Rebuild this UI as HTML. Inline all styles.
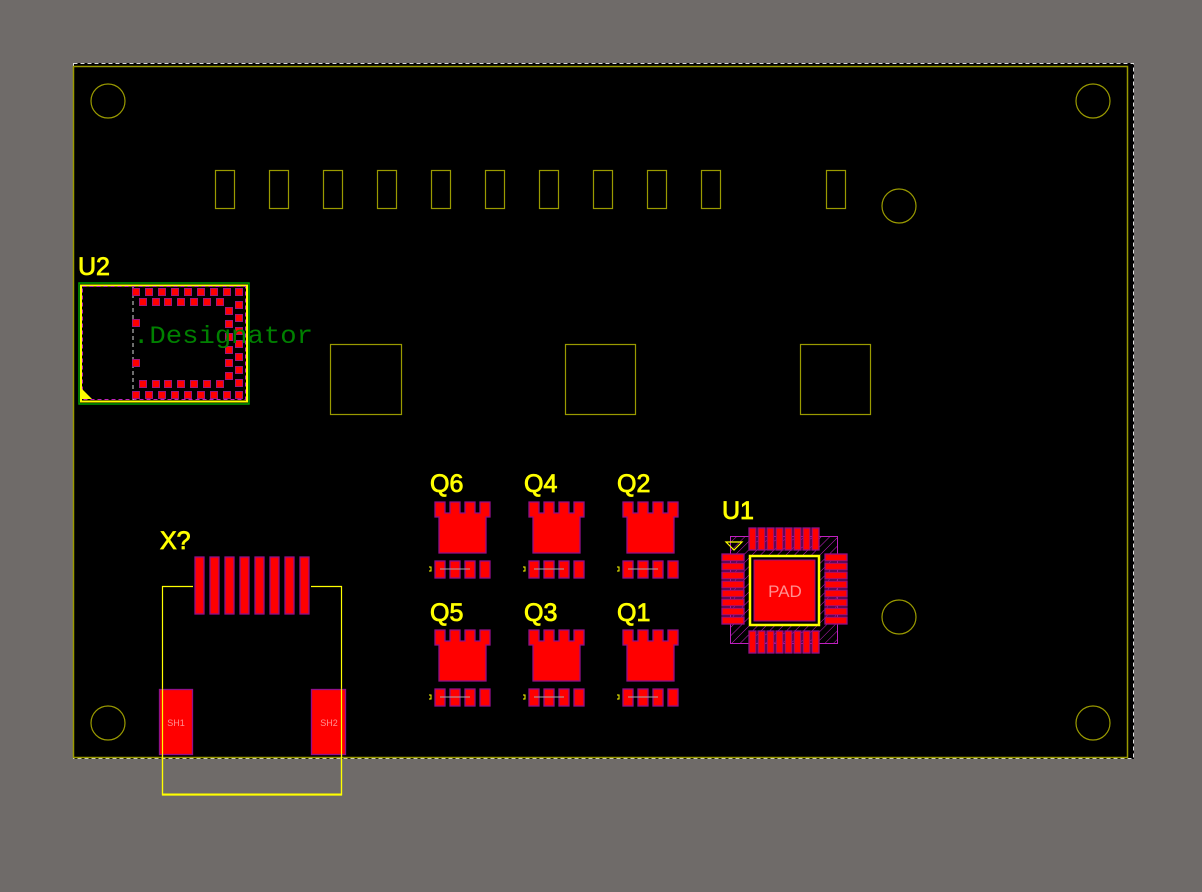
<!DOCTYPE html>
<html><head><meta charset="utf-8"><style>
html,body{margin:0;padding:0;background:#6f6b69;width:1202px;height:892px;overflow:hidden}
svg{display:block}
.lbl{font-family:"Liberation Sans",sans-serif;font-size:25px;fill:#ffff00;stroke:#ffff00;stroke-width:0.8}
</style></head><body>
<svg width="1202" height="892" viewBox="0 0 1202 892" xmlns="http://www.w3.org/2000/svg">
<defs>
<pattern id="hatch" width="6" height="6" patternUnits="userSpaceOnUse" patternTransform="rotate(45)">
<line x1="0" y1="0" x2="0" y2="6" stroke="#c020c0" stroke-width="1"/></pattern>
<g id="sp"><rect x="-4" y="-4" width="8" height="8" fill="#a0167a"/><rect x="-3" y="-3" width="6" height="6" fill="#ff0000"/></g>
<g id="q">
<path d="M0,0 H10 V11 H15 V0 H25 V11 H30 V0 H40 V11 H45 V0 H55 V15 H51 V51 H4 V15 H0 Z" fill="#ff0000" stroke="#90108a" stroke-width="1.3"/>
<rect x="0" y="59" width="10" height="17" fill="#ff0000" stroke="#90108a" stroke-width="1.3"/>
<rect x="15" y="59" width="10" height="17" fill="#ff0000" stroke="#90108a" stroke-width="1.3"/>
<rect x="30" y="59" width="10" height="17" fill="#ff0000" stroke="#90108a" stroke-width="1.3"/>
<rect x="45" y="59" width="10" height="17" fill="#ff0000" stroke="#90108a" stroke-width="1.3"/>
<line x1="5" y1="67" x2="35" y2="67" stroke="#aaa" stroke-width="1"/>
<path d="M-6,65 h2 v4 h-2" fill="none" stroke="#ff0" stroke-width="1"/>
</g>
<rect id="vp" width="7" height="22" fill="#ff0000" stroke="#90108a" stroke-width="1.3"/>
<rect id="hp" width="22" height="7" fill="#ff0000" stroke="#90108a" stroke-width="1.3"/>
<rect id="xp" width="9" height="57" fill="#ff0000" stroke="#90108a" stroke-width="1.3"/>
</defs>
<rect x="74" y="63" width="1060" height="696" fill="#000"/>
<rect x="73.5" y="63.5" width="1060" height="695" fill="none" stroke="#ddd" stroke-width="1" stroke-dasharray="4,3"/>
<rect x="73.5" y="66.5" width="1054" height="691" fill="none" stroke="#9a9a00" stroke-width="1.5"/>
<g fill="none" stroke="#9a9a00" stroke-width="1.2">
<circle cx="108" cy="101" r="17"/><circle cx="1093" cy="101" r="17"/>
<circle cx="108" cy="723" r="17"/><circle cx="1093" cy="723" r="17"/>
<circle cx="899" cy="206" r="17"/><circle cx="899" cy="617" r="17"/>
<rect x="215.5" y="170.5" width="19" height="38"/><rect x="269.5" y="170.5" width="19" height="38"/>
<rect x="323.5" y="170.5" width="19" height="38"/><rect x="377.5" y="170.5" width="19" height="38"/>
<rect x="431.5" y="170.5" width="19" height="38"/><rect x="485.5" y="170.5" width="19" height="38"/>
<rect x="539.5" y="170.5" width="19" height="38"/><rect x="593.5" y="170.5" width="19" height="38"/>
<rect x="647.5" y="170.5" width="19" height="38"/><rect x="701.5" y="170.5" width="19" height="38"/>
<rect x="826.5" y="170.5" width="19" height="38"/>
<rect x="330.5" y="344.5" width="71" height="70"/><rect x="565.5" y="344.5" width="70" height="70"/>
<rect x="800.5" y="344.5" width="70" height="70"/>
</g>
<text class="lbl" x="78" y="275">U2</text>
<rect x="79" y="283" width="170" height="121" fill="none" stroke="#00a000" stroke-width="1.5"/>
<rect x="81" y="285.5" width="166" height="116" fill="none" stroke="#ffff00" stroke-width="2"/>
<rect x="82.5" y="286.5" width="163" height="113" fill="none" stroke="#c020c0" stroke-width="1" stroke-dasharray="4,3"/>
<line x1="133" y1="287" x2="133" y2="400" stroke="#ddd" stroke-dasharray="4,3"/>
<path d="M82,399 V389 L92,399 Z" fill="#ffff00"/>
<g>
<use href="#sp" x="136" y="292"/><use href="#sp" x="149" y="292"/><use href="#sp" x="162" y="292"/><use href="#sp" x="175" y="292"/><use href="#sp" x="188" y="292"/><use href="#sp" x="201" y="292"/><use href="#sp" x="214" y="292"/><use href="#sp" x="227" y="292"/><use href="#sp" x="239" y="292"/>
<use href="#sp" x="143" y="302"/><use href="#sp" x="156" y="302"/><use href="#sp" x="168" y="302"/><use href="#sp" x="181" y="302"/><use href="#sp" x="194" y="302"/><use href="#sp" x="207" y="302"/><use href="#sp" x="220" y="302"/>
<use href="#sp" x="239" y="305"/><use href="#sp" x="239" y="318"/><use href="#sp" x="239" y="331"/><use href="#sp" x="239" y="344"/><use href="#sp" x="239" y="357"/><use href="#sp" x="239" y="370"/><use href="#sp" x="239" y="383"/><use href="#sp" x="239" y="395"/>
<use href="#sp" x="229" y="311"/><use href="#sp" x="229" y="324"/><use href="#sp" x="229" y="337"/><use href="#sp" x="229" y="350"/><use href="#sp" x="229" y="363"/><use href="#sp" x="229" y="376"/>
<use href="#sp" x="143" y="384"/><use href="#sp" x="156" y="384"/><use href="#sp" x="168" y="384"/><use href="#sp" x="181" y="384"/><use href="#sp" x="194" y="384"/><use href="#sp" x="207" y="384"/><use href="#sp" x="220" y="384"/>
<use href="#sp" x="136" y="395"/><use href="#sp" x="149" y="395"/><use href="#sp" x="162" y="395"/><use href="#sp" x="175" y="395"/><use href="#sp" x="188" y="395"/><use href="#sp" x="201" y="395"/><use href="#sp" x="214" y="395"/><use href="#sp" x="227" y="395"/>
<use href="#sp" x="136" y="323"/><use href="#sp" x="136" y="363"/>
</g>
<text x="133" y="343" font-family="Liberation Mono,monospace" font-size="25" fill="#008000" textLength="180" lengthAdjust="spacingAndGlyphs">.Designator</text>
<text class="lbl" x="430" y="492">Q6</text><text class="lbl" x="524" y="492">Q4</text><text class="lbl" x="617" y="492">Q2</text>
<text class="lbl" x="430" y="621">Q5</text><text class="lbl" x="524" y="621">Q3</text><text class="lbl" x="617" y="621">Q1</text>
<use href="#q" x="435" y="502"/><use href="#q" x="529" y="502"/><use href="#q" x="623" y="502"/>
<use href="#q" x="435" y="630"/><use href="#q" x="529" y="630"/><use href="#q" x="623" y="630"/>
<text class="lbl" x="722" y="519">U1</text>
<rect x="730.5" y="536.5" width="107" height="107" fill="url(#hatch)" stroke="#c020c0" stroke-width="1"/>
<g>
<use href="#vp" x="749" y="528"/><use href="#vp" x="758" y="528"/><use href="#vp" x="767" y="528"/><use href="#vp" x="776" y="528"/><use href="#vp" x="785" y="528"/><use href="#vp" x="794" y="528"/><use href="#vp" x="803" y="528"/><use href="#vp" x="812" y="528"/>
<use href="#vp" x="749" y="631"/><use href="#vp" x="758" y="631"/><use href="#vp" x="767" y="631"/><use href="#vp" x="776" y="631"/><use href="#vp" x="785" y="631"/><use href="#vp" x="794" y="631"/><use href="#vp" x="803" y="631"/><use href="#vp" x="812" y="631"/>
<use href="#hp" x="722" y="554"/><use href="#hp" x="722" y="563"/><use href="#hp" x="722" y="572"/><use href="#hp" x="722" y="581"/><use href="#hp" x="722" y="590"/><use href="#hp" x="722" y="599"/><use href="#hp" x="722" y="608"/><use href="#hp" x="722" y="617"/>
<use href="#hp" x="825" y="554"/><use href="#hp" x="825" y="563"/><use href="#hp" x="825" y="572"/><use href="#hp" x="825" y="581"/><use href="#hp" x="825" y="590"/><use href="#hp" x="825" y="599"/><use href="#hp" x="825" y="608"/><use href="#hp" x="825" y="617"/>
</g>
<rect x="750" y="556" width="69" height="69" fill="#000" stroke="#ffff00" stroke-width="2.5"/>
<rect x="754" y="560" width="61" height="61" fill="#ff0000" stroke="#90108a"/>
<text x="785" y="597" text-anchor="middle" font-family="Liberation Sans,sans-serif" font-size="17" fill="#ff9090">PAD</text>
<path d="M726,542 H742 L734,550 Z" fill="none" stroke="#ffff00" stroke-width="1.2"/>
<text class="lbl" x="160" y="549">X?</text>
<path d="M193,586.5 H162.5 V795 H341.5 V586.5 H311" fill="none" stroke="#ffff00" stroke-width="1.2"/>
<line x1="162" y1="794.5" x2="342" y2="794.5" stroke="#ffff00" stroke-width="2"/>
<g>
<use href="#xp" x="195" y="557"/><use href="#xp" x="210" y="557"/><use href="#xp" x="225" y="557"/><use href="#xp" x="240" y="557"/><use href="#xp" x="255" y="557"/><use href="#xp" x="270" y="557"/><use href="#xp" x="285" y="557"/><use href="#xp" x="300" y="557"/>
</g>
<rect x="159.5" y="689.5" width="33" height="65" fill="#ff0000" stroke="#90108a" stroke-width="1.3"/>
<rect x="311.5" y="689.5" width="34" height="65" fill="#ff0000" stroke="#90108a" stroke-width="1.3"/>
<text x="176" y="726" text-anchor="middle" font-family="Liberation Sans,sans-serif" font-size="9" fill="#ff9090">SH1</text>
<text x="329" y="726" text-anchor="middle" font-family="Liberation Sans,sans-serif" font-size="9" fill="#ff9090">SH2</text>
<line x1="162.5" y1="689" x2="162.5" y2="795" stroke="#ffff00" stroke-width="1.2"/>
<line x1="341.5" y1="689" x2="341.5" y2="795" stroke="#ffff00" stroke-width="1.2"/>
</svg>
</body></html>
